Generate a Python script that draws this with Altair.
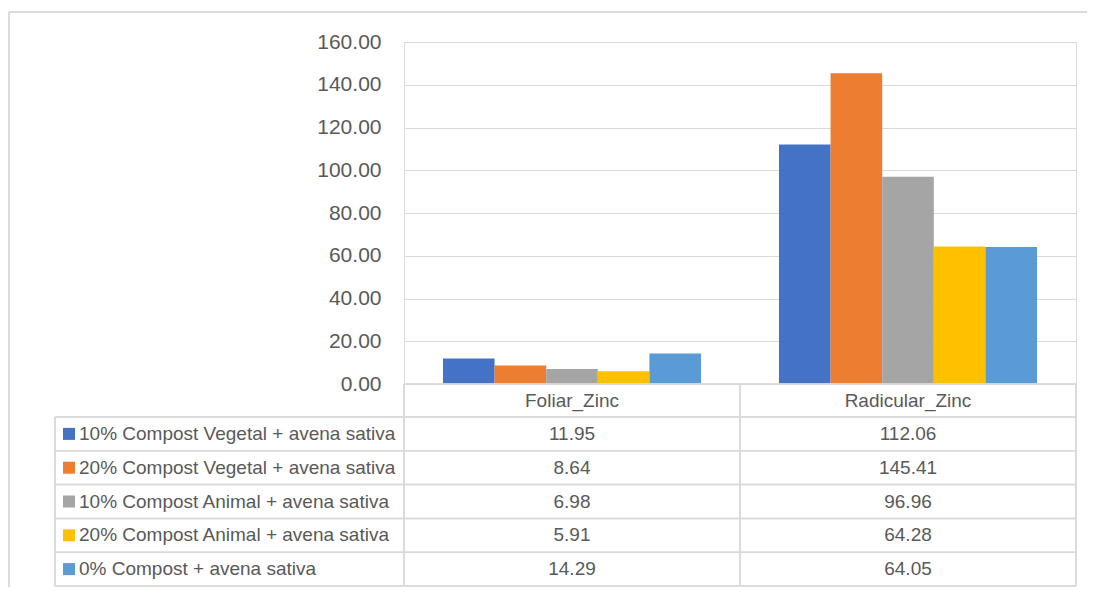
import altair as alt
import pandas as pd

categories = ["Foliar_Zinc", "Radicular_Zinc"]
series = [
    "10% Compost Vegetal + avena sativa",
    "20% Compost Vegetal + avena sativa",
    "10% Compost Animal + avena sativa",
    "20% Compost Animal + avena sativa",
    "0% Compost + avena sativa",
]
foliar_values = [11.95, 8.64, 6.98, 5.91, 14.29]
radicular_values = [112.06, 145.41, 96.96, 64.28, 64.05]
colors = ["#4472C4", "#ED7D31", "#A5A5A5", "#FFC000", "#5B9BD5"]

rows = []
for s, fv, rv in zip(series, foliar_values, radicular_values):
    rows.append({"category": categories[0], "series": s, "value": fv})
    rows.append({"category": categories[1], "series": s, "value": rv})
df = pd.DataFrame(rows)
cat_df = pd.DataFrame({"category": categories})
ser_df = pd.DataFrame({"series": series})

W, H = 672, 342
GRID = "#d9d9d9"
TXT = "#595959"
FONT = "Liberation Sans"

HEAD_BOTTOM = 375
ROW_H = 33.8
row_lines = [HEAD_BOTTOM + i * ROW_H for i in range(6)]
row_centers = [HEAD_BOTTOM + (i + 0.5) * ROW_H for i in range(5)]
TABLE_BOTTOM = row_lines[-1]

xscale = alt.Scale(domain=categories, paddingInner=0, paddingOuter=0)
color_scale = alt.Scale(domain=series, range=colors)
row_scale = alt.Scale(type="point", domain=series, range=[row_centers[0], row_centers[-1]], padding=0)

bars = alt.Chart(df).mark_bar().encode(
    x=alt.X("category:N", scale=xscale, axis=None),
    xOffset=alt.XOffset("series:N", sort=series,
                        scale=alt.Scale(domain=series, paddingInner=0, paddingOuter=0.755)),
    y=alt.Y("value:Q", scale=alt.Scale(domain=[0, 160], nice=False),
            axis=alt.Axis(values=list(range(0, 161, 20)), format=".2f", title=None,
                          domain=False, ticks=False, labelPadding=23,
                          labelFontSize=21, labelColor=TXT, labelFont=FONT,
                          grid=True, gridColor=GRID, gridWidth=1)),
    color=alt.Color("series:N", scale=color_scale, legend=None),
)

header = alt.Chart(cat_df).mark_text(fontSize=19, color=TXT, font=FONT, baseline="middle").encode(
    x=alt.X("category:N", scale=xscale, axis=None),
    y=alt.value((H + HEAD_BOTTOM) / 2),
    text="category:N",
)

values_text = alt.Chart(df).mark_text(fontSize=19, color=TXT, font=FONT, baseline="middle").encode(
    x=alt.X("category:N", scale=xscale, axis=None),
    y=alt.Y("series:N", scale=row_scale, axis=None),
    text=alt.Text("value:Q", format=".2f"),
)

labels = alt.Chart(ser_df).mark_text(fontSize=19, color=TXT, font=FONT, baseline="middle",
                                      align="left").encode(
    x=alt.value(-325),
    y=alt.Y("series:N", scale=row_scale, axis=None),
    text="series:N",
)

squares = alt.Chart(ser_df).mark_square(size=144, opacity=1).encode(
    x=alt.value(-335),
    y=alt.Y("series:N", scale=row_scale, axis=None),
    color=alt.Color("series:N", scale=color_scale, legend=None),
)

# table grid lines and chart border
lines = []
def hline(y, x1, x2, color=GRID, w=1.5):
    return alt.Chart(cat_df).mark_rule(color=color, strokeWidth=w).encode(
        y=alt.value(y), x=alt.value(x1), x2=alt.value(x2))

def vline(x, y1, y2, color=GRID, w=1.5):
    return alt.Chart(cat_df).mark_rule(color=color, strokeWidth=w).encode(
        x=alt.value(x), y=alt.value(y1), y2=alt.value(y2))

lines.append(hline(H, 0, W))
for yy in row_lines:
    lines.append(hline(yy, -349, W))
lines.append(vline(-349, HEAD_BOTTOM, TABLE_BOTTOM))
for xx in [0, 336, W]:
    lines.append(vline(xx, H, TABLE_BOTTOM))
# outer chart border
lines.append(hline(-30, -395, 690))
lines.append(vline(-395, -30, 560))

chart = alt.layer(bars, *lines, header, values_text, labels, squares).resolve_scale(
    y="independent"
).properties(
    width=W, height=H,
    autosize=alt.AutoSizeParams(type="none"),
    padding={"left": 396, "top": 34, "right": 11, "bottom": 203},
).configure_view(stroke=None).configure(font=FONT, background="white")

chart.save("out.html", embed_options={"renderer": "svg", "actions": False})
